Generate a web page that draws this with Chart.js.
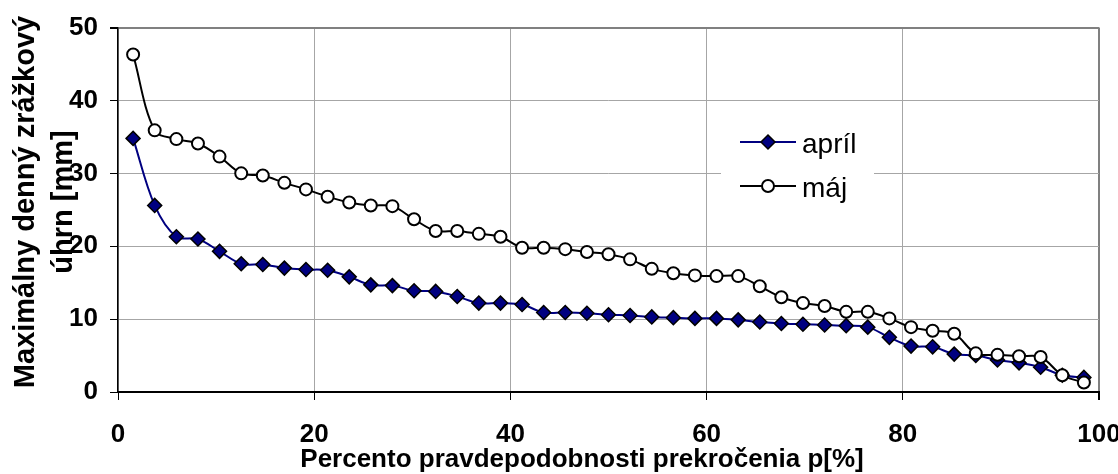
<!DOCTYPE html>
<html>
<head>
<meta charset="utf-8">
<script src="https://cdn.jsdelivr.net/npm/chart.js@4.4.1/dist/chart.umd.min.js"></script>
<style>
  html, body { margin: 0; padding: 0; background: #fff; }
</style>
</head>
<body>
<canvas id="chart" width="1118" height="474"></canvas>
<script>
// plotting positions p[%] of the 45 ranked values
const pValues = [1.54, 3.74, 5.95, 8.15, 10.35, 12.56, 14.76, 16.96, 19.16, 21.37,
  23.57, 25.77, 27.97, 30.18, 32.38, 34.58, 36.78, 38.99, 41.19, 43.39,
  45.59, 47.80, 50.00, 52.20, 54.41, 56.61, 58.81, 61.01, 63.22, 65.42,
  67.62, 69.82, 72.03, 74.23, 76.43, 78.63, 80.84, 83.04, 85.24, 87.44,
  89.65, 91.85, 94.05, 96.26, 98.46];
const aprilValues = [34.8, 25.6, 21.3, 21.0, 19.3, 17.6, 17.5, 17.0, 16.8, 16.7,
  15.8, 14.7, 14.6, 13.9, 13.8, 13.1, 12.2, 12.2, 12.0, 10.9,
  10.9, 10.8, 10.6, 10.5, 10.3, 10.2, 10.1, 10.1, 9.9, 9.6,
  9.4, 9.3, 9.2, 9.1, 8.9, 7.5, 6.3, 6.2, 5.2, 5.0,
  4.4, 4.0, 3.4, 2.3, 2.0];
const majValues = [46.3, 35.9, 34.7, 34.1, 32.3, 30.0, 29.7, 28.7, 27.8, 26.8,
  26.0, 25.6, 25.5, 23.7, 22.1, 22.1, 21.7, 21.3, 19.8, 19.8,
  19.6, 19.2, 18.9, 18.2, 16.9, 16.3, 16.0, 15.9, 15.9, 14.5,
  13.0, 12.2, 11.8, 11.0, 11.0, 10.1, 8.9, 8.4, 8.0, 5.3,
  5.1, 4.9, 4.8, 2.3, 1.3];
const seriesNames = ["apríl", "máj"];
const xTitle = "Percento pravdepodobnosti prekročenia p[%]";
const yTitle = ["Maximálny denný zrážkový", "úhrn [mm]"];

const FONT = "'Liberation Sans', Arial, sans-serif";
const toPts = vals => vals.map((v, i) => ({ x: pValues[i], y: v }));

function drawDiamond(c, x, y, r) {
  c.beginPath();
  c.moveTo(x, y - r); c.lineTo(x + r, y); c.lineTo(x, y + r); c.lineTo(x - r, y);
  c.closePath();
  c.fillStyle = "#000080"; c.fill();
  c.lineWidth = 1.5; c.strokeStyle = "#000"; c.stroke();
}
function drawCircle(c, x, y, r) {
  c.beginPath(); c.arc(x, y, r, 0, Math.PI * 2);
  c.fillStyle = "#fff"; c.fill();
  c.lineWidth = 2; c.strokeStyle = "#000"; c.stroke();
}

const extras = {
  id: "extras",
  afterDraw(chart) {
    const c = chart.ctx;
    c.save();
    // legend inside the plot
    c.fillStyle = "#fff";
    c.fillRect(721, 118, 153, 94);
    const rows = [
      { y: 142, color: "#000080", mark: drawDiamond },
      { y: 186, color: "#000", mark: drawCircle },
    ];
    rows.forEach((r, i) => {
      c.beginPath(); c.moveTo(740, r.y); c.lineTo(796, r.y);
      c.lineWidth = 2; c.strokeStyle = r.color; c.stroke();
      r.mark(c, 768, r.y, i === 0 ? 7 : 6);
      c.fillStyle = "#000";
      c.font = "28px " + FONT;
      c.textAlign = "left"; c.textBaseline = "alphabetic";
      c.fillText(seriesNames[i], 802, r.y + 11);
    });
    // axis titles
    c.fillStyle = "#000";
    c.font = "bold 26px " + FONT;
    c.textAlign = "center"; c.textBaseline = "alphabetic";
    c.fillText(xTitle, 582, 467);
    c.font = "bold 29px " + FONT;
    c.translate(0, 202);
    c.rotate(-Math.PI / 2);
    c.fillText(yTitle[0], 0, 34);
    c.fillText(yTitle[1], 0, 72);
    c.restore();
  }
};

new Chart(document.getElementById("chart"), {
  type: "line",
  data: {
    datasets: [
      {
        label: seriesNames[0], data: toPts(aprilValues), order: 2,
        borderColor: "#000080", borderWidth: 2, tension: 0.35,
        pointStyle: "rectRot", pointRadius: 7, pointHoverRadius: 7,
        pointBackgroundColor: "#000080", pointBorderColor: "#000", pointBorderWidth: 1.5,
      },
      {
        label: seriesNames[1], data: toPts(majValues), order: 1,
        borderColor: "#000", borderWidth: 2, tension: 0.35,
        pointStyle: "circle", pointRadius: 6, pointHoverRadius: 6,
        pointBackgroundColor: "#fff", pointBorderColor: "#000", pointBorderWidth: 2,
      },
    ],
  },
  options: {
    responsive: false,
    animation: false,
    layout: { padding: { left: 0, right: 19, top: 21, bottom: 0 } },
    plugins: { legend: { display: false }, tooltip: { enabled: false } },
    scales: {
      x: {
        type: "linear", min: 0, max: 100,
        ticks: { stepSize: 20, padding: 19, color: "#000", font: { family: FONT, size: 26, weight: "bold" } },
        grid: {
          color: c => c.tick.value === 100 ? "#808080" : "#a6a6a6",
          lineWidth: c => c.tick.value === 100 ? 2 : 1,
          tickColor: "#000", tickLength: 8,
        },
        border: { color: "#000", width: 2 },
        afterFit: s => { s.height = 82; s.paddingLeft = 0; s.paddingRight = 0; },
      },
      y: {
        min: 0, max: 50,
        ticks: { stepSize: 10, padding: 12, color: "#000", font: { family: FONT, size: 26, weight: "bold" } },
        grid: {
          color: c => c.tick.value === 50 ? "#808080" : "#a6a6a6",
          lineWidth: c => c.tick.value === 50 ? 2 : 1,
          tickColor: "#000", tickLength: 8,
        },
        border: { color: "#000", width: 1.5 },
        afterFit: s => { s.width = 118; },
      },
    },
  },
  plugins: [extras],
});
</script>
</body>
</html>
